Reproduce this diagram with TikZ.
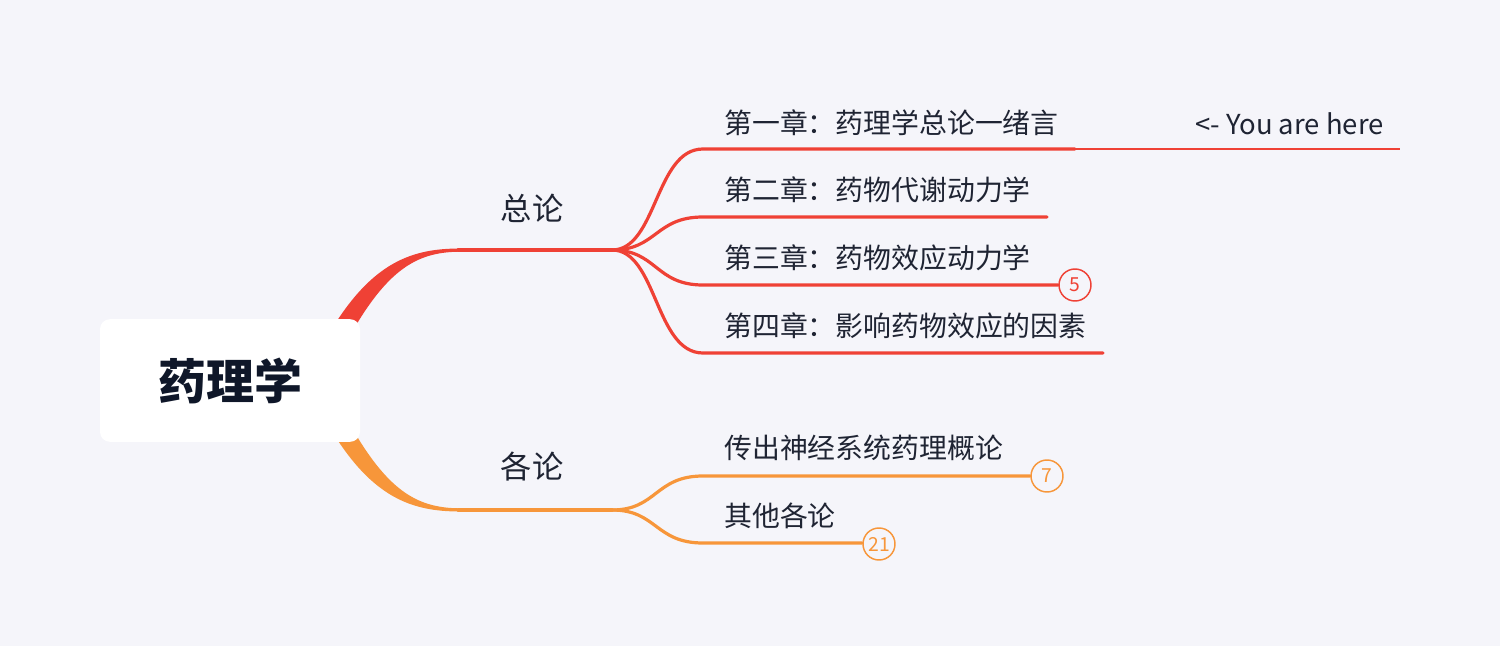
\documentclass[tikz,border=0pt]{standalone}
\usepackage{fontspec}
\setmainfont{Noto Sans CJK SC}
\definecolor{bg}{HTML}{F5F5FA}
\definecolor{rd}{HTML}{EF4135}
\definecolor{og}{HTML}{F7963A}
\definecolor{ink}{HTML}{1F2433}
\definecolor{rootink}{HTML}{0F1729}
\begin{document}
\begin{tikzpicture}[x=0.75pt,y=-0.75pt,
  rdline/.style={draw=rd,line width=2.4pt,line cap=round},
  ogline/.style={draw=og,line width=2.4pt,line cap=round},
  lbl/.style={anchor=west,inner sep=0pt,text=ink,font=\fontsize{20.9pt}{24pt}\selectfont},
  blbl/.style={inner sep=0pt,text=ink,font=\fontsize{23.5pt}{28pt}\selectfont},
  cnt/.style={circle,draw=#1,text=#1,line width=1.1pt,minimum size=24pt,inner sep=0pt,font=\fontsize{14.5pt}{16pt}\selectfont},
]
\fill[bg] (0,0) rectangle (1500,646);
\useasboundingbox (0,0) rectangle (1500,646);
% tapered main branches
\fill[rd] (330,332) .. controls (372,262) and (412,248.5) .. (460,248.5) -- (460,251.7) .. controls (420,252) and (390,266) .. (352,332) -- cycle;
\fill[og] (330,428) .. controls (372,498) and (412,511.5) .. (460,511.5) -- (460,508.3) .. controls (420,508) and (390,494) .. (352,428) -- cycle;
% root
\node[fill=white,rounded corners=7.5pt,minimum width=195pt,minimum height=92pt,inner sep=0pt,
      text=rootink,font=\fontsize{36pt}{40pt}\selectfont\bfseries] (root) at (230,380.5) {药理学};
% main branch coordinates
\coordinate (zl) at (458,250);
\coordinate (zf) at (612,250);
\coordinate (gl) at (458,510);
\coordinate (gf) at (612,510);
\draw[rdline] (zl) -- (zf);
\draw[ogline] (gl) -- (gf);
\node[blbl] (zonglun) at (532,208) {总论};
\node[blbl] (gelun) at (532,467) {各论};
% red children
\coordinate (c1s) at (703,149); \coordinate (c1e) at (1075,149);
\coordinate (c2s) at (703,217); \coordinate (c2e) at (1047,217);
\coordinate (c3s) at (703,285); \coordinate (c3e) at (1058,285);
\coordinate (c4s) at (703,353); \coordinate (c4e) at (1103,353);
\coordinate (yh) at (1400,149);
\draw[rdline] (zf) .. controls +(45,0) and +(-48,0) .. (c1s) -- (c1e);
\draw[rdline] (zf) .. controls +(45,0) and +(-48,0) .. (c2s) -- (c2e);
\draw[rdline] (zf) .. controls +(45,0) and +(-48,0) .. (c3s) -- (c3e);
\draw[rdline] (zf) .. controls +(45,0) and +(-48,0) .. (c4s) -- (c4e);
\draw[draw=rd,line width=1.1pt] (c1e) -- (yh);
\node[lbl] (t1) at (724,123) {第一章：药理学总论一绪言};
\node[lbl] (t2) at (724,190) {第二章：药物代谢动力学};
\node[lbl] (t3) at (724,258) {第三章：药物效应动力学};
\node[lbl] (t4) at (724,326) {第四章：影响药物效应的因素};
\node[lbl,font=\fontsize{20.6pt}{23pt}\selectfont] (here) at (1195,124) {<- You are here};
\node[cnt=rd] (n5) at (1075,285) {5};
\draw[draw=rd,line width=1.1pt] (c3e) -- (n5.west);
% orange children
\coordinate (o1s) at (703,476); \coordinate (o1e) at (1030,476);
\coordinate (o2s) at (703,543); \coordinate (o2e) at (862,543);
\draw[ogline] (gf) .. controls +(45,0) and +(-48,0) .. (o1s) -- (o1e);
\draw[ogline] (gf) .. controls +(45,0) and +(-48,0) .. (o2s) -- (o2e);
\node[lbl] (o1) at (724,448) {传出神经系统药理概论};
\node[lbl] (o2) at (724,516) {其他各论};
\node[cnt=og] (n7) at (1047,476) {7};
\node[cnt=og] (n21) at (879,544) {21};
\draw[draw=og,line width=1.1pt] (o1e) -- (n7.west);
\draw[draw=og,line width=1.1pt] (o2e) -- (n21.west);
\end{tikzpicture}
\end{document}
